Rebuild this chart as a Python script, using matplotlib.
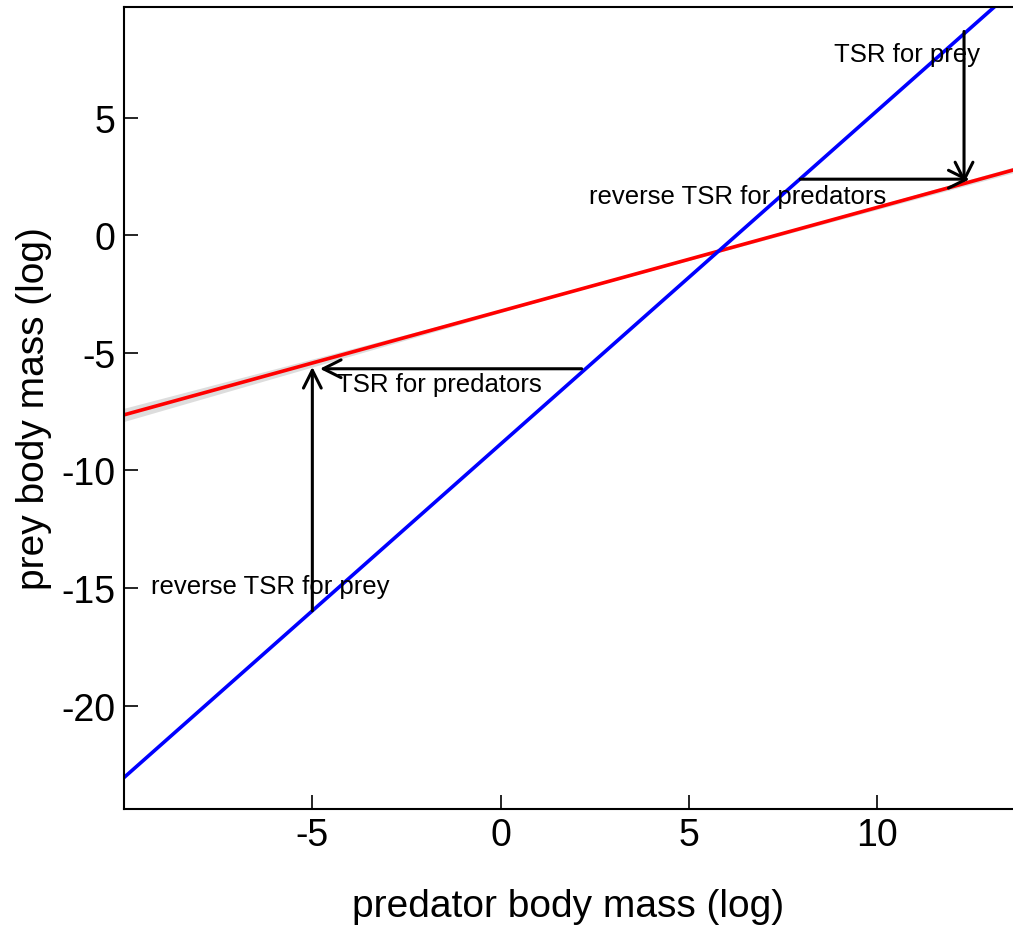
import numpy as np
import matplotlib
matplotlib.use("Agg")
import matplotlib.pyplot as plt

plt.rcParams['font.family'] = ['Liberation Sans', 'DejaVu Sans']
plt.rcParams['axes.unicode_minus'] = False

# Fitted regressions: prey mass = intercept + slope * predator mass (log scale)
x_range = [-10.0, 13.6]
blue_intercept, blue_slope = -8.88, 1.418
red_intercept, red_slope = -3.23, 0.441
red_ci_halfwidth = [0.28, 0.02, 0.12]   # band half-width at x = -10, mean, 13.6

# Arrow endpoints (predator, prey)
arrow_starts = [(-5.0, -15.97), (2.15, -5.68), (12.3, 8.66), (7.95, 2.38)]
arrow_ends = [(-5.0, -5.6), (-4.8, -5.68), (12.3, 2.2), (12.45, 2.38)]
labels = ["reverse TSR for prey", "TSR for predators", "TSR for prey", "reverse TSR for predators"]
label_pos = [(-6.12, -14.9), (-1.63, -6.34), (10.79, 7.7), (6.29, 1.66)]

x_ticks = [-5, 0, 5, 10]
y_ticks = [-20, -15, -10, -5, 0, 5]

fig = plt.figure(figsize=(10.13, 9.29), dpi=100)
ax = fig.add_axes([0.1224, 0.128, 0.8776, 0.8634])

xs = np.linspace(x_range[0], x_range[1], 200)
red = red_intercept + red_slope * xs
xm = np.mean(x_range)
hw = np.where(xs < xm,
              np.interp(xs, [x_range[0], xm], red_ci_halfwidth[:2]),
              np.interp(xs, [xm, x_range[1]], red_ci_halfwidth[1:]))
ax.fill_between(xs, red - hw, red + hw, color='#dddddd', lw=0, zorder=1)
ax.plot(xs, red, color='red', lw=2.6, zorder=2)
ax.plot(xs, blue_intercept + blue_slope * xs, color='blue', lw=2.6, zorder=2)

for (x0, y0), (x1, y1) in zip(arrow_starts, arrow_ends):
    ax.annotate("", xy=(x1, y1), xytext=(x0, y0),
                arrowprops=dict(arrowstyle="->", color='black', lw=2.2,
                                mutation_scale=32, shrinkA=0, shrinkB=0),
                zorder=3)

for txt, (tx, ty) in zip(labels, label_pos):
    ax.text(tx, ty, txt, fontsize=18.5, ha='center', va='center', zorder=4)

ax.set_xlim(x_range)
ax.set_ylim(-24.4, 9.7)
ax.set_xticks(x_ticks)
ax.set_yticks(y_ticks)
ax.tick_params(direction='in', length=10, width=1.2, labelsize=27)
ax.tick_params(axis='x', pad=6)
ax.tick_params(axis='y', pad=6)
ax.spines['right'].set_visible(False)
for s in ax.spines.values():
    s.set_linewidth(1.5)
ax.set_xlabel("predator body mass (log)", fontsize=28, labelpad=25)
ax.set_ylabel("prey body mass (log)", fontsize=28, labelpad=7)

fig.savefig("out.png", dpi=100)
